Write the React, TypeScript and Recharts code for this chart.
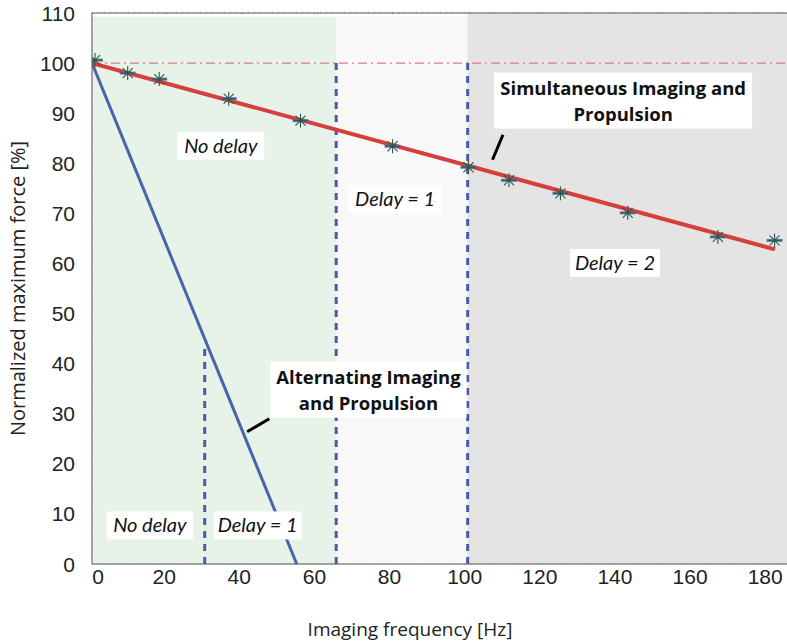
import {
  ComposedChart,
  Line,
  Scatter,
  XAxis,
  YAxis,
  CartesianGrid,
  ReferenceArea,
  ReferenceLine,
  ReferenceDot,
} from 'recharts';

// measured points (asterisks)
const measuredHz = [0.8, 9.5, 17.9, 36.4, 55.5, 80, 100.2, 111, 124.7, 142.6, 166.6, 181.7];
const measuredForce = [100.6, 98, 96.8, 92.9, 88.5, 83.4, 79.2, 76.6, 74, 70.1, 65.3, 64.6];

// model lines
const simultaneousHz = [0, 181.8];
const simultaneousForce = [100, 62.8];
const alternatingHz = [0, 54.5];
const alternatingForce = [100, 0];

const xTicks = [0, 20, 40, 60, 80, 100, 120, 140, 160, 180];
const yTicks = [0, 10, 20, 30, 40, 50, 60, 70, 80, 90, 100, 110];

// shaded regions [x1, x2, yTop, fill]
const regions: Array<[number, number, number, string]> = [
  [0, 65, 109.3, '#e7f2e9'],
  [65, 100, 109.3, '#f8f8f8'],
  [100, 185, 110, '#e4e4e4'],
];

// delay boundaries [x, yTop]
const delayLines: Array<[number, number]> = [
  [30, 44],
  [65, 100],
  [100, 100],
];

// italic labels [text, x, y, boxWidth]
const delayLabels: Array<[string, number, number, number]> = [
  ['No delay', 34.3, 83.5, 87],
  ['Delay = 1', 80.7, 72.8, 94],
  ['Delay = 2', 139.2, 60.1, 90],
  ['No delay', 15.4, 7.7, 86],
  ['Delay = 1', 44.1, 7.7, 88],
];

// bold callouts [line1, line2, x, y, boxWidth]
const callouts: Array<[string, string, number, number, number]> = [
  ['Simultaneous Imaging and', 'Propulsion', 141.4, 92.5, 258],
  ['Alternating Imaging', 'and Propulsion', 73.6, 34.8, 196],
];

// pointer segments [x1, y1, x2, y2]
const pointers: Array<[number, number, number, number]> = [
  [106.6, 80.7, 109.4, 85.7],
  [41.3, 26.4, 47.2, 29.0],
];

const simultaneousData = simultaneousHz.map((hz, i) => ({ hz, force: simultaneousForce[i] }));
const alternatingData = alternatingHz.map((hz, i) => ({ hz, force: alternatingForce[i] }));
const measuredData = measuredHz.map((hz, i) => ({ hz, force: measuredForce[i] }));

const LABEL_FONT = '"Open Sans", Lato, sans-serif';
const ITALIC_FONT = 'Lato, "Open Sans", sans-serif';
const TICK_FONT = '"Liberation Sans", Arial, sans-serif';

function Star(props: any) {
  const { cx, cy } = props;
  const r = 7;
  const d = r * 0.72;
  return (
    <g>
      <line x1={cx - 8} y1={cy} x2={cx + 8} y2={cy} stroke="#5366ad" strokeWidth={3} opacity={0.85} />
      <g stroke="#2c5a46" strokeWidth={1.1}>
        <line x1={cx} y1={cy - r} x2={cx} y2={cy + r} />
        <line x1={cx - r} y1={cy} x2={cx + r} y2={cy} />
        <line x1={cx - d} y1={cy - d} x2={cx + d} y2={cy + d} />
        <line x1={cx - d} y1={cy + d} x2={cx + d} y2={cy - d} />
      </g>
      <circle cx={cx} cy={cy} r={1.5} fill="#2c5a46" />
    </g>
  );
}

function XTick(props: any) {
  const { x, y, payload } = props;
  const shift = payload.value === 0 ? 6 : -3;
  return (
    <text x={x + shift} y={y + 20} textAnchor="middle" fontFamily={TICK_FONT} fontSize={21} fill="#222">
      {payload.value}
    </text>
  );
}

function YTick(props: any) {
  const { x, y, payload } = props;
  return (
    <text x={x} y={y + 7.5} textAnchor="end" fontFamily={TICK_FONT} fontSize={21} fill="#222">
      {payload.value}
    </text>
  );
}

function italicBox(text: string, w: number) {
  return (props: any) => {
    const { cx, cy } = props;
    return (
      <g>
        <rect x={cx - w / 2} y={cy - 14} width={w} height={28} fill="#ffffff" />
        <text
          x={cx}
          y={cy + 7}
          textAnchor="middle"
          fontFamily={ITALIC_FONT}
          fontStyle="italic"
          fontSize={20}
          fill="#111"
        >
          {text}
        </text>
      </g>
    );
  };
}

function calloutBox(l1: string, l2: string, w: number) {
  return (props: any) => {
    const { cx, cy } = props;
    return (
      <g>
        <rect x={cx - w / 2} y={cy - 28} width={w} height={56} fill="#ffffff" />
        <text
          textAnchor="middle"
          fontFamily={LABEL_FONT}
          fontWeight="bold"
          fontSize={18.5}
          fill="#111"
        >
          <tspan x={cx} y={cy - 6}>{l1}</tspan>
          <tspan x={cx} y={cy + 20}>{l2}</tspan>
        </text>
      </g>
    );
  };
}

export default function App() {
  return (
    <div style={{ position: 'absolute', left: 0, top: 0, background: '#fff' }}>
      <ComposedChart
        width={787}
        height={641}
        margin={{ top: 13, right: 0, bottom: 0, left: 0 }}
      >
        {regions.map(([x1, x2, y2, fill], i) => (
          <ReferenceArea
            key={`r${i}`}
            x1={x1}
            x2={x2}
            y1={0}
            y2={y2}
            fill={fill}
            fillOpacity={1}
            stroke="none"
          />
        ))}
        <CartesianGrid stroke="#8a8a8a" strokeDasharray="1 5" />
        <XAxis
          dataKey="hz"
          type="number"
          domain={[0, 185]}
          ticks={xTicks}
          allowDataOverflow
          height={77}
          stroke="#555"
          tickLine={false}
          tickSize={0}
          tickMargin={0}
          tick={XTick}
          label={{
            content: (p: any) => {
              const vb = p.viewBox;
              return (
                <text
                  x={410}
                  y={vb.y + 72}
                  textAnchor="middle"
                  fontFamily={LABEL_FONT}
                  fontSize={19}
                  fill="#222"
                >
                  Imaging frequency [Hz]
                </text>
              );
            },
          }}
        />
        <YAxis
          type="number"
          domain={[0, 110]}
          ticks={yTicks}
          width={92}
          stroke="#555"
          tickLine={false}
          tickSize={0}
          tickMargin={17}
          tick={YTick}
          label={{
            content: (p: any) => {
              const vb = p.viewBox;
              const cy = vb.y + vb.height / 2;
              return (
                <text
                  x={17}
                  y={cy}
                  transform={`rotate(-90 17 ${cy})`}
                  textAnchor="middle"
                  dominantBaseline="central"
                  fontFamily={LABEL_FONT}
                  fontSize={20}
                  fill="#222"
                >
                  Normalized maximum force [%]
                </text>
              );
            },
          }}
        />
        <ReferenceLine y={110} stroke="#555" />
        <ReferenceLine y={100} stroke="#e07a7a" strokeWidth={1.2} strokeDasharray="9 4 2 4" />
        {delayLines.map(([x, top], i) => (
          <ReferenceLine
            key={`d${i}`}
            segment={[{ x, y: 0 }, { x, y: top }]}
            stroke="#4a5aa8"
            strokeWidth={3}
            strokeDasharray="7 6"
          />
        ))}
        <Line
          data={alternatingData}
          dataKey="force"
          stroke="#4a64aa"
          strokeWidth={3}
          dot={false}
          isAnimationActive={false}
        />
        <Line
          data={simultaneousData}
          dataKey="force"
          stroke="#d6403c"
          strokeWidth={4}
          dot={false}
          isAnimationActive={false}
        />
        <Scatter data={measuredData} dataKey="force" shape={Star} isAnimationActive={false} />
        {pointers.map(([x1, y1, x2, y2], i) => (
          <ReferenceLine
            key={`p${i}`}
            segment={[{ x: x1, y: y1 }, { x: x2, y: y2 }]}
            stroke="#000"
            strokeWidth={3}
          />
        ))}
        {delayLabels.map(([text, x, y, w], i) => (
          <ReferenceDot key={`l${i}`} x={x} y={y} r={1} shape={italicBox(text, w)} />
        ))}
        {callouts.map(([l1, l2, x, y, w], i) => (
          <ReferenceDot key={`c${i}`} x={x} y={y} r={1} shape={calloutBox(l1, l2, w)} />
        ))}
      </ComposedChart>
    </div>
  );
}
